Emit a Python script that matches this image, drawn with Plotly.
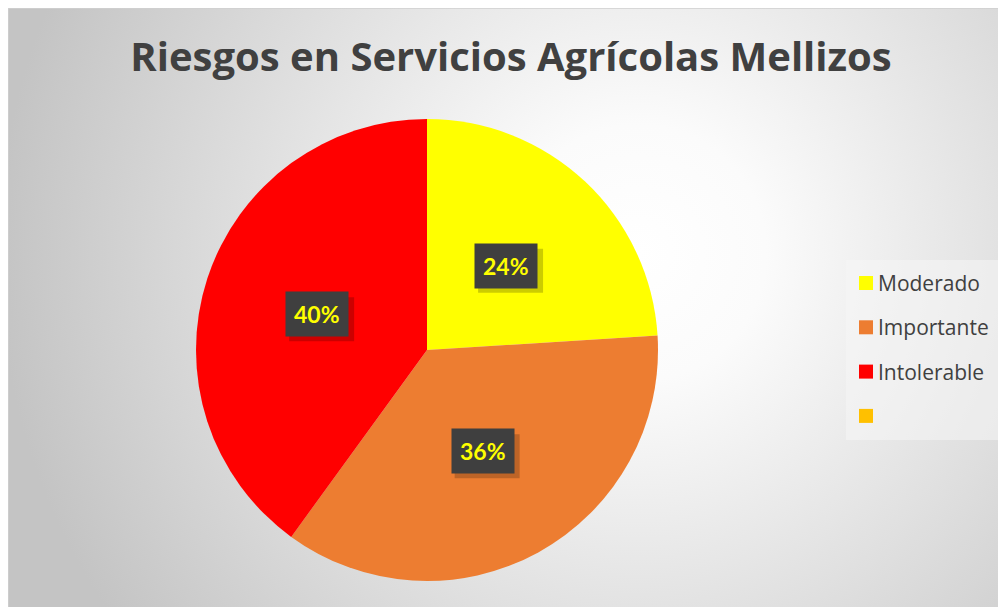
import base64
import math
import plotly.graph_objects as go

# datos del grafico
categorias = ['Moderado', 'Importante', 'Intolerable', ' ']
valores = [24, 36, 40, 0]
colores = ['#FFFF00', '#ED7D31', '#FF0000', '#FFC000']
titulo = 'Riesgos en Servicios Agrícolas Mellizos'

W, H = 1006, 607
OFF = 8  # margen del body de la pagina html
# centro y radio del pie en pixeles (de la imagen)
cx_px, cy_px, r_px = 427 - OFF, 350 - OFF, 231


def px_x(x):
    return (x - OFF) / W


def px_y(y):
    return 1 - (y - OFF) / H


# fondo con degradado radial (como el area de grafico de excel)
svg = '''<svg xmlns="http://www.w3.org/2000/svg" width="1006" height="607">
<defs><radialGradient id="g" gradientUnits="userSpaceOnUse" cx="630" cy="245" r="640">
<stop offset="0" stop-color="#ffffff"/><stop offset="0.2" stop-color="#fbfbfb"/>
<stop offset="1" stop-color="#c4c4c4"/></radialGradient></defs>
<rect x="0" y="0" width="1006" height="607" fill="url(#g)" stroke="#d0d0d0" stroke-width="1.5"/>
</svg>'''
fondo = 'data:image/svg+xml;base64,' + base64.b64encode(svg.encode()).decode()

dom_x = [(cx_px - r_px) / W, (cx_px + r_px) / W]
dom_y = [1 - (cy_px + r_px) / H, 1 - (cy_px - r_px) / H]

fig = go.Figure()
fig.add_trace(go.Pie(
    labels=categorias, values=valores, sort=False, direction='clockwise',
    rotation=0, marker=dict(colors=colores, line=dict(width=0)),
    textinfo='none', hoverinfo='label+percent', showlegend=False,
    domain=dict(x=dom_x, y=dom_y),
))

# etiquetas de datos: cajas oscuras con texto amarillo a media distancia del radio
total = sum(valores)
acum = 0
anotaciones = []
formas = []
for v in valores:
    if v == 0:
        continue
    medio = (acum + v / 2) / total * 2 * math.pi
    acum += v
    px = cx_px + 0.5 * r_px * math.sin(medio)
    py = cy_px - 0.5 * r_px * math.cos(medio)
    # sombra de la caja
    formas.append(dict(type='rect', xref='paper', yref='paper',
                       x0=(px - 28) / W, x1=(px + 37) / W,
                       y0=1 - (py + 27) / H, y1=1 - (py - 17) / H,
                       fillcolor='rgba(0,0,0,0.2)', line=dict(width=0)))
    anotaciones.append(dict(x=px / W, y=1 - py / H, xref='paper', yref='paper',
                            xanchor='center', yanchor='middle',
                            text='<b>{}%</b>'.format(round(v / total * 100)),
                            showarrow=False, borderpad=8, bgcolor='#3f3f3f',
                            font=dict(family='Lato', size=23, color='#FFFF00')))

# leyenda dibujada a mano para igualar el espaciado
formas.append(dict(type='rect', xref='paper', yref='paper', x0=px_x(846), x1=px_x(1000),
                   y0=px_y(440), y1=px_y(260), fillcolor='rgba(245,245,245,0.55)',
                   line=dict(width=0), layer='below'))
for i, (cat, col) in enumerate(zip(categorias, colores)):
    yc = 283 + i * 44.3
    formas.append(dict(type='rect', xref='paper', yref='paper', x0=px_x(859), x1=px_x(873),
                       y0=px_y(yc + 7), y1=px_y(yc - 7), fillcolor=col,
                       line=dict(width=0)))
    anotaciones.append(dict(x=px_x(876), y=px_y(yc), xref='paper', yref='paper',
                            text=cat, showarrow=False, xanchor='left', yanchor='middle',
                            font=dict(family='Open Sans', size=21, color='#404040')))

fig.update_layout(
    width=W, height=H, margin=dict(l=0, r=0, t=0, b=0),
    paper_bgcolor='white',
    title=dict(text='<b>' + titulo + '</b>', x=px_x(511), y=px_y(57),
               xanchor='center', yanchor='middle',
               font=dict(family='Open Sans', size=40, color='#404040')),
    images=[dict(source=fondo, xref='paper', yref='paper', x=0, y=1, sizex=1, sizey=1,
                 xanchor='left', yanchor='top', sizing='stretch', layer='below')],
    shapes=formas, annotations=anotaciones, showlegend=False,
)

fig.write_html('out.html')
